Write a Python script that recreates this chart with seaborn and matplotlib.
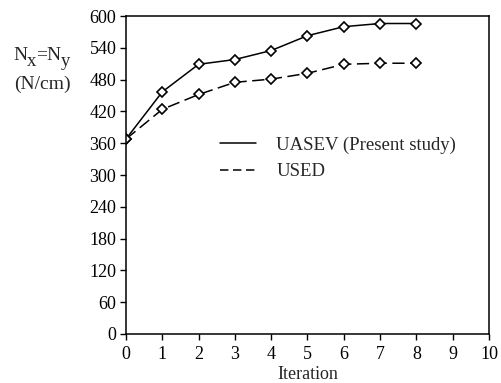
#------------------------------------------------------------------------------
# Libraries
#------------------------------------------------------------------------------

import numpy as np
import pandas as pd
import seaborn as sns
import matplotlib
matplotlib.use('Agg')
import matplotlib.pyplot as plt
from matplotlib.lines import Line2D

#------------------------------------------------------------------------------
# Data
#------------------------------------------------------------------------------

iteration = [0, 1, 2, 3, 4, 5, 6, 7, 8]
uasev = [368, 457, 509, 518, 535, 563, 580, 586, 586]
used = [368, 424, 452, 475, 481, 492, 509, 511, 511]
series_names = ['UASEV (Present study)', 'USED']
x_ticks = list(range(0, 11))
y_ticks = list(range(0, 601, 60))

df = pd.DataFrame({
    'Iteration': iteration * 2,
    'N': uasev + used,
    'series': [series_names[0]] * len(iteration) + [series_names[1]] * len(iteration),
})

#------------------------------------------------------------------------------
# Style
#------------------------------------------------------------------------------

sns.set_style('ticks')
plt.rcParams['font.family'] = ['Liberation Serif', 'DejaVu Serif']

#------------------------------------------------------------------------------
# Plot
#------------------------------------------------------------------------------

W, H = 502, 383
fig = plt.figure(figsize=(W / 100, H / 100), dpi=100)
ax = fig.add_axes([0.251, 0.128, 0.723, 0.830])

line_styles = {series_names[0]: '-', series_names[1]: (0, (8, 3.6))}
for name in series_names:
    sub = df[df['series'] == name]
    sns.lineplot(data=sub, x='Iteration', y='N', ax=ax, color='black',
                 linestyle=line_styles[name], linewidth=1.1,
                 marker='D', markersize=5, markerfacecolor='white',
                 markeredgecolor='black', markeredgewidth=1.2)

ax.set_xlim(0, 10)
ax.set_ylim(0, 600)
ax.set_xticks(x_ticks)
ax.set_yticks(y_ticks)
ax.tick_params(direction='out', length=4, width=1, labelsize=13, colors='black')
ax.tick_params(axis='x', pad=5)
ax.tick_params(axis='y', pad=3)
for sp in ax.spines.values():
    sp.set_linewidth(1.1)
    sp.set_color('black')

ax.set_xlabel('Iteration', fontsize=13, labelpad=2)
ax.set_ylabel('')

# y label "Nx=Ny" with large subscripts, placed in figure pixels
pieces = [('N', 13, 60, 14), ('x', 27, 66, 13.5), ('=N', 36, 60, 14), ('y', 61, 66, 13.5)]
for txt, px, py, fs in pieces:
    fig.text(px / W, 1 - py / H, txt, fontsize=fs, ha='left', va='baseline')
fig.text(42 / W, 1 - 84 / H, '(N/cm)', fontsize=14, ha='center', va='center')

# legend handles: the dashed one gets a shorter pattern so three dashes show
legend_styles = ['-', (0, (5.5, 3))]
handles = [Line2D([0], [0], color='black', linestyle=s, linewidth=1.1) for s in legend_styles]
ax.legend(handles, series_names, frameon=False, fontsize=13.5,
          loc='center left', bbox_to_anchor=(220 / W, 1 - 158.5 / H),
          bbox_transform=fig.transFigure, handlelength=1.9, handletextpad=1.1,
          labelspacing=0.5, borderaxespad=0, borderpad=0)

fig.savefig('out.png', dpi=100)
